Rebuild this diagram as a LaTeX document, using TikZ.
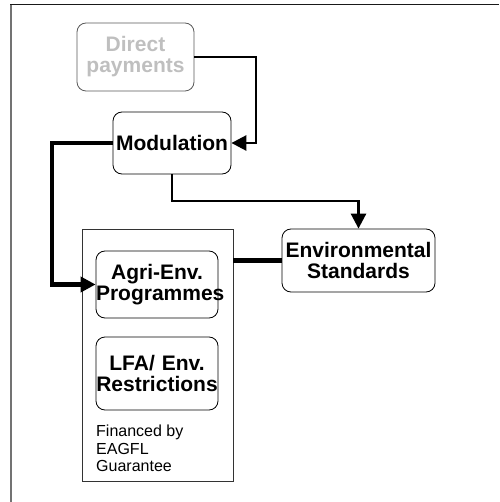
\documentclass[tikz,border=0pt]{standalone}
\usepackage{fontspec}
\setmainfont{Liberation Sans}
\usetikzlibrary{arrows.meta}
\begin{document}
\begin{tikzpicture}[x=1pt,y=-1pt,
  box/.style={draw=black, line width=0.8pt, rounded corners=9pt, align=center,
    inner sep=0pt, font=\fontsize{21}{21}\selectfont\bfseries},
  fund/.style={draw=black!80, line width=0.8pt, inner sep=0pt},
  link/.style={line width=2.7pt},
  heavylink/.style={line width=4.5pt},
  tip/.style={-{Triangle[length=15pt,width=15pt]}},
  note/.style={inner sep=0pt, align=left, font=\fontsize{16}{17.5}\selectfont}]
\useasboundingbox (0,0) rectangle (499,502);

% page frame: only top and left edges
\draw[line width=1.2pt, black!55] (11,502) -- (11,4.5);
\draw[line width=1.6pt, black!90] (10.4,4.5) -- (499,4.5);

% boxes
\node[box, draw=black!65, text=black!25, text width=117pt, minimum height=68pt]
  (dp) at (135.5,57) {Direct\\payments};
\node[box, text width=118pt, minimum height=62pt] (mod) at (172,143) {Modulation};
\node[fund, minimum width=151pt, minimum height=252pt] (guar) at (157.5,355) {};
\node[box, text width=122pt, minimum height=67pt] (agri) at (157,284.5) {Agri-Env.\\Programmes};
\node[box, text width=122pt, minimum height=73pt] (lfa) at (157,373.5) {LFA/ Env.\\Restrictions};
\node[note, anchor=north west] (fin) at (96,425) {Financed by\\EAGFL\\Guarantee};
\node[box, text width=153pt, minimum height=63pt] (env) at (358.5,260.5) {Environmental\\Standards};

% connectors
\coordinate (dpturn) at (256,57);
\coordinate (modturn) at (52,143);
\coordinate (envturn) at (172,201);
\draw[link, tip] (dp.east) -- (dpturn) |- (mod.east);
\draw[heavylink, tip] (mod.west) -- (modturn) |- (agri.west);
\draw[link, tip] (mod.south) -- (envturn) -| (env.north);
\draw[heavylink] (guar.east |- env.west) -- (env.west);
\end{tikzpicture}
\end{document}
